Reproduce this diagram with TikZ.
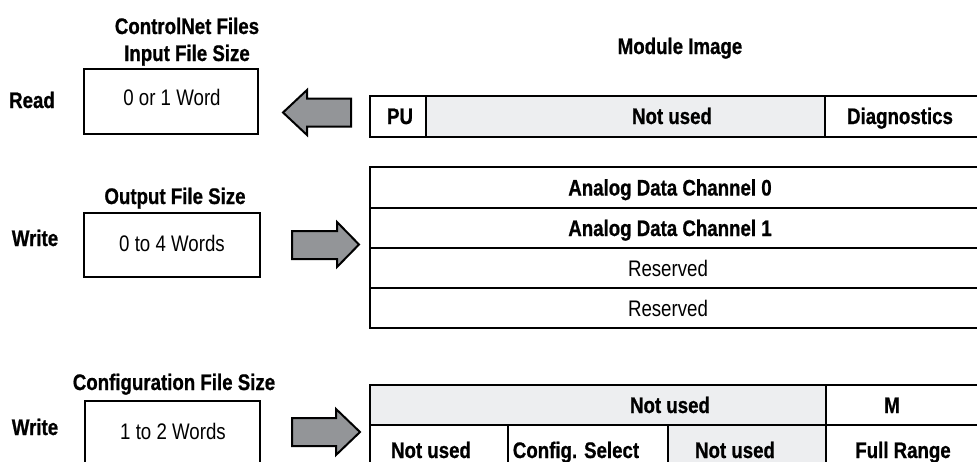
\documentclass[tikz,border=0pt]{standalone}
\usepackage{fontspec}
\setmainfont{Liberation Sans}[FakeStretch=0.83, BoldFeatures={FakeBold=0.8}]
\definecolor{cellgray}{HTML}{EDEEF0}
\definecolor{arrowgray}{HTML}{939598}
\begin{document}
\begin{tikzpicture}[x=1pt,y=-1pt,
  lbl/.style={font=\fontsize{22.5}{25}\selectfont, text height=16pt, text depth=0pt, inner sep=0pt},
  blbl/.style={lbl, font=\fontsize{22.5}{25}\selectfont\bfseries},
  framebox/.style={draw=black, line width=2pt, inner sep=0pt, anchor=north west},
  gridline/.style={draw=black, line width=2pt},
  blockarrow/.style={draw=black, line width=2pt, fill=arrowgray, line join=miter}]
\useasboundingbox (0,0) rectangle (977,461);

% ---------- left side: file size boxes ----------
\node[blbl] (t1a) at (187,26) {ControlNet Files};
\node[blbl] (t1b) at (187,53) {Input File Size};
\node[framebox, minimum width=174pt, minimum height=65pt] (inbox) at (83,68) {};
\node[blbl] (read) at (32,100) {Read};
\node[lbl] (intext) at (172,97) {0 or 1 Word};

\node[blbl] (t2) at (175,196) {Output File Size};
\node[framebox, minimum width=176pt, minimum height=64pt] (outbox) at (83,212) {};
\node[blbl] (write1) at (35,238) {Write};
\node[lbl] (outtext) at (172,243) {0 to 4 Words};

\node[blbl] (t3) at (174,382) {Configuration File Size};
\node[framebox, minimum width=175pt, minimum height=80pt] (cfgbox) at (84,400) {};
\node[blbl] (write2) at (35,427) {Write};
\node[lbl] (cfgtext) at (173,431) {1 to 2 Words};

% ---------- block arrows ----------
\draw[blockarrow] (283,112.5) -- (307,90) -- (307,98.5) -- (351,98.5) -- (351,126.5)
  -- (307,126.5) -- (307,135) -- cycle;
\draw[blockarrow] (292,231) -- (337,231) -- (337,222) -- (359,244.5) -- (337,267)
  -- (337,259) -- (292,259) -- cycle;
\draw[blockarrow] (292,418) -- (336,418) -- (336,409) -- (360,432) -- (336,455)
  -- (336,446) -- (292,446) -- cycle;

% ---------- module image ----------
\node[blbl] (mimg) at (680,46) {Module Image};

% table 1
\fill[cellgray] (426,96) rectangle (825,136.5);
\draw[gridline] (370,96) rectangle (990,136.5);
\draw[gridline] (426,96) -- (426,136.5);
\draw[gridline] (825,96) -- (825,136.5);
\node[blbl] (pu) at (400,116) {PU};
\node[blbl] (nu1) at (672,116) {Not used};
\node[blbl] (diag) at (900,116) {Diagnostics};

% table 2
\draw[gridline] (370,167) rectangle (990,328);
\draw[gridline] (370,207.5) -- (990,207.5);
\draw[gridline] (370,248) -- (990,248);
\draw[gridline] (370,288) -- (990,288);
\node[blbl] (ch0) at (670,187.5) {Analog Data Channel 0};
\node[blbl] (ch1) at (670,228) {Analog Data Channel 1};
\node[lbl] (res1) at (668,268) {Reserved};
\node[lbl] (res2) at (668,308) {Reserved};

% table 3
\fill[cellgray] (370,385) rectangle (826,425);
\fill[cellgray] (668,425) rectangle (826,480);
\draw[gridline] (370,385) rectangle (990,480);
\draw[gridline] (370,425) -- (990,425);
\draw[gridline] (826,385) -- (826,480);
\draw[gridline] (508,425) -- (508,480);
\draw[gridline] (668,425) -- (668,480);
\node[blbl] (nu2) at (670,405) {Not used};
\node[blbl] (m) at (892,405) {M};
\node[blbl] (nu3) at (431,450) {Not used};
\node[blbl] (cs) at (576,450) {Config. Select};
\node[blbl] (nu4) at (735,450) {Not used};
\node[blbl] (fr) at (903,450) {Full Range};
\end{tikzpicture}
\end{document}
